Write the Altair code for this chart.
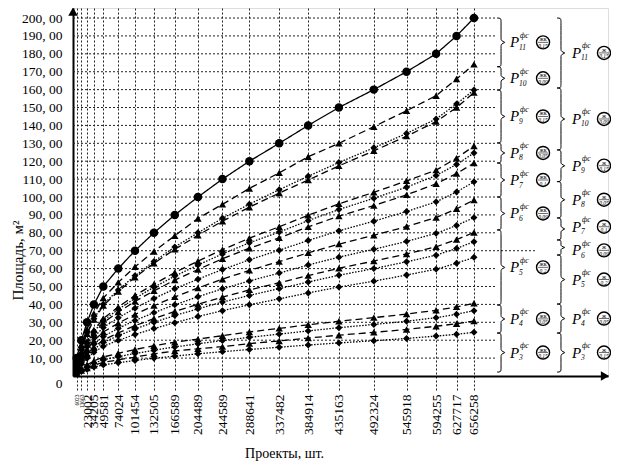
import altair as alt
import pandas as pd

FONT = "Liberation Serif"

# ---------------- data ----------------
x_ticks = [6023, 13663, 23002, 34205, 49581, 74024, 101454, 132505, 166589, 204489,
           244589, 288641, 337482, 384914, 435163, 492324, 545918, 594255, 627717, 656258]
y_ticks = [0, 10, 20, 30, 40, 50, 60, 70, 80, 90, 100, 110, 120, 130, 140, 150, 160, 170, 180, 190, 200]

s00 = [10, 20, 30, 40, 50, 60, 70, 80, 90, 100, 110, 120, 130, 140, 150, 160, 170, 180, 190, 200]
s01 = [8.8, 17.5, 26.2, 34.9, 43.6, 52.3, 61.0, 69.6, 78.4, 88.0, 95.9, 104.8, 113.5, 122.5, 130.0, 139.3, 148.2, 156.6, 165.9, 174.1]
s02 = [8.1, 16.0, 24.1, 32.0, 40.1, 48.1, 56.0, 64.0, 72.1, 80.0, 88.1, 96.0, 104.1, 111.6, 119.3, 127.5, 135.5, 143.6, 152.0, 159.8]
s03 = [7.8, 15.7, 23.6, 31.5, 39.3, 47.2, 55.1, 63.0, 70.8, 78.6, 86.5, 94.3, 102.2, 109.5, 117.4, 125.8, 134.0, 142.1, 150.0, 158.3]
s04 = [6.5, 12.9, 19.3, 25.7, 32.1, 38.5, 45.0, 51.3, 57.8, 64.2, 70.6, 77.0, 83.4, 89.8, 96.2, 102.6, 109.0, 115.0, 121.7, 128.5]
s05 = [6.2, 12.4, 18.6, 24.8, 31.0, 37.2, 43.4, 49.6, 55.8, 62.0, 68.2, 74.4, 80.4, 86.8, 93.0, 99.3, 105.5, 112.0, 118.2, 124.6]
s06 = [6.0, 11.9, 17.9, 23.8, 29.8, 35.7, 41.7, 47.6, 53.6, 59.5, 65.5, 71.4, 77.2, 83.3, 89.3, 95.2, 101.2, 107.4, 113.1, 119.0]
s07 = [5.4, 10.9, 16.3, 21.7, 27.1, 32.5, 37.9, 43.3, 48.7, 54.1, 59.5, 64.9, 70.3, 75.7, 81.1, 86.5, 91.9, 97.3, 102.8, 108.5]
s08 = [4.9, 9.8, 14.8, 19.7, 24.6, 29.5, 34.4, 39.3, 44.2, 49.2, 54.1, 59.0, 63.9, 68.8, 73.7, 78.6, 83.5, 88.5, 93.4, 98.3]
s09 = [4.4, 8.9, 13.3, 17.7, 22.1, 26.6, 31.0, 35.4, 39.8, 44.3, 48.7, 53.1, 57.5, 62.0, 66.4, 70.8, 75.2, 79.7, 84.1, 88.5]
s10 = [4.0, 8.0, 12.0, 16.0, 20.1, 24.1, 28.1, 32.1, 36.1, 40.1, 44.1, 48.1, 52.1, 56.1, 60.2, 64.2, 68.2, 72.2, 76.2, 80.2]
s11 = [3.8, 7.5, 11.3, 15.0, 18.8, 22.5, 26.3, 30.0, 33.8, 37.5, 41.3, 45.0, 48.8, 52.5, 56.3, 60.0, 63.8, 67.5, 71.3, 75.0]
s12 = [3.3, 6.6, 9.9, 13.3, 16.6, 19.9, 23.2, 26.5, 29.8, 33.2, 36.5, 39.8, 43.1, 46.4, 49.7, 53.0, 56.4, 59.7, 63.0, 66.3]
s13 = [2.1, 4.2, 6.3, 8.4, 10.6, 12.7, 14.8, 16.9, 18.9, 20.6, 22.5, 24.6, 26.6, 28.6, 30.6, 32.6, 34.6, 36.7, 38.6, 40.6]
s14 = [1.8, 3.6, 5.4, 7.2, 9.0, 10.8, 12.6, 14.4, 16.2, 18.0, 19.8, 21.6, 23.4, 25.2, 27.0, 28.8, 30.6, 32.6, 34.5, 36.5]
s15 = [1.5, 3.0, 4.5, 6.0, 7.6, 9.0, 10.6, 12.4, 14.0, 15.2, 16.4, 18.1, 19.6, 21.2, 22.8, 24.4, 26.0, 27.8, 29.2, 30.7]
s16 = [1.2, 2.5, 3.7, 5.0, 6.2, 7.4, 8.7, 9.9, 11.1, 12.4, 13.6, 14.8, 16.1, 17.3, 18.5, 19.7, 21.0, 22.3, 23.3, 24.4]

series = [s00, s01, s02, s03, s04, s05, s06, s07, s08, s09, s10, s11, s12, s13, s14, s15, s16]
series_style = ["solid", "dashed", "dotted", "dashed", "dashed", "dotted", "dashed", "dotted",
                "dashed", "dotted", "dashed", "dotted", "dotted", "dashed", "dotted", "dashed", "dotted"]
style_marker = {"solid": "circle", "dashed": "triangle-up", "dotted": "diamond"}
marker_size = {"circle": 72, "triangle-up": 55, "diamond": 48}

# brace annotations (value ranges) and their labels
brace1_ranges = [(200, 172.8), (172.8, 159.8), (159.8, 130.2), (130.2, 119.0), (119.0, 100.0),
                 (100.0, 81.6), (81.6, 39.7), (39.7, 24.0), (24.0, 2.2)]
brace2_ranges = [(200, 160.9), (160.9, 126.3), (126.3, 108.6), (108.6, 88.3), (88.3, 76.0),
                 (76.0, 67.6), (67.6, 40.2), (40.2, 24.0), (24.0, 2.2)]
label1_y = [186.4, 166.3, 145.0, 124.6, 109.5, 90.8, 60.7, 31.9, 13.1]
label2_y = [180.5, 143.6, 117.5, 98.5, 83.4, 70.2, 53.9, 32.1, 13.1]
label_subs = ["11", "10", "9", "8", "7", "6", "5", "4", "3"]
label_rates = ["0,15", "0,09", "0,15", "0,05", "0,1", "0,09", "0,2", "0,05", "0,15"]
col1_kind = "жк"
col2_kind = "ж"

# ---------------- layout constants ----------------
X_MAX = 875600
Y_MAX = 205.6
GRID_END = 694000
GRID_END_LONG = 756000
PX = 1636.6  # data units per pixel on x
B1_X = 694000
B2_X = 792100
BW = 8 * PX
L1_X = B1_X + 13 * PX
C1_X = B1_X + 46 * PX
L2_X = B2_X + 15 * PX
C2_X = B2_X + 47 * PX

rows = []
for i, (vals, st) in enumerate(zip(series, series_style)):
    mk = style_marker[st]
    for xv, yv in zip(x_ticks, vals):
        rows.append(dict(series=f"s{i:02d}", x=xv, y=yv, style=st, marker=mk, msize=marker_size[mk]))
df = pd.DataFrame(rows)

grid_df = pd.DataFrame({
    "y": y_ticks[1:],
    "x": [0] * (len(y_ticks) - 1),
    "x2": [GRID_END_LONG if v == 70 else GRID_END for v in y_ticks[1:]],
})


def brace_pts(bid, x0, w, yt, yb):
    ym = (yt + yb) / 2
    e = min(2.0, (yt - yb) * 0.18)
    h = w * 0.5
    pts = [(x0, yt), (x0 + h, yt), (x0 + h, yt - e), (x0 + h, ym + e), (x0 + h, ym + e * 0.5),
           (x0 + w, ym), (x0 + w, ym), (x0 + h, ym - e * 0.5), (x0 + h, ym - e),
           (x0 + h, yb + e), (x0 + h, yb), (x0, yb)]
    return [dict(bid=bid, x=px, y=py, order=k) for k, (px, py) in enumerate(pts)]


brace_rows = []
lab_rows = []
for j, (rng, ly, sub, rate) in enumerate(zip(brace1_ranges, label1_y, label_subs, label_rates)):
    brace_rows += brace_pts(f"a{j}", B1_X, BW, rng[0], rng[1])
    lab_rows.append(dict(x=L1_X, cx=C1_X, cl=C1_X - 5 * PX, cr=C1_X + 5 * PX,
                         y=ly, p="P", sup="фс", sub=sub, top=col1_kind, bot=rate))
for j, (rng, ly, sub, rate) in enumerate(zip(brace2_ranges, label2_y, label_subs, label_rates)):
    brace_rows += brace_pts(f"b{j}", B2_X, BW, rng[0], rng[1])
    lab_rows.append(dict(x=L2_X, cx=C2_X, cl=C2_X - 5 * PX, cr=C2_X + 5 * PX,
                         y=ly, p="P", sup="фс", sub=sub, top=col2_kind, bot=rate))
brace_df = pd.DataFrame(brace_rows)
lab_df = pd.DataFrame(lab_rows)

arrow_x_df = pd.DataFrame({"x": [X_MAX - 3 * PX], "y": [0]})
arrow_y_df = pd.DataFrame({"x": [0], "y": [Y_MAX - 2.0]})

# ---------------- scales / axes ----------------
xscale = alt.Scale(domain=[0, X_MAX], nice=False, zero=False)
yscale = alt.Scale(domain=[0, Y_MAX], nice=False, zero=False)

xaxis = alt.Axis(
    values=x_ticks, format="d", labelAngle=270, labelFont=FONT,
    labelFontSize={"condition": {"test": "datum.value < 20000", "value": 5.5}, "value": 13.5},
    labelColor="black", labelOverlap=False, labelFlush=False, labelPadding=2,
    tickSize=16, tickColor="#222", tickDash=[2, 2], tickWidth=1,
    grid=True, gridColor="#222", gridDash=[2, 2], gridWidth=1, gridOpacity=1,
    domainColor="black", domainWidth=2,
    title="Проекты, шт.", titleFont=FONT, titleFontSize=14, titleFontWeight="normal",
    titleColor="black", titleX=211, titleY=77, titleBaseline="middle",
)
yaxis = alt.Axis(
    values=y_ticks, labelExpr="datum.value == 0 ? '0' : format(datum.value, 'd') + ', 00'",
    labelFont=FONT, labelFontSize=13.5, labelColor="black", labelPadding=11,
    labelBaseline={"condition": {"test": "datum.value == 0", "value": "top"}, "value": "middle"},
    labelFlush=False, labelOverlap=False, ticks=False, grid=False,
    domainColor="black", domainWidth=2,
    title="Площадь, м²", titleFont=FONT, titleFontSize=15, titleFontWeight="normal",
    titleColor="black", titleX=-56, titleY=252, titleAlign="center", titleBaseline="middle",
)


def X(field="x"):
    return alt.X(f"{field}:Q", scale=xscale, axis=xaxis)


def Y(field="y"):
    return alt.Y(f"{field}:Q", scale=yscale, axis=yaxis)


grid = alt.Chart(grid_df).mark_rule(color="#222", strokeDash=[2, 2], strokeWidth=1).encode(
    x=X(), x2="x2:Q", y=Y())

lines = alt.Chart(df).mark_line(color="black", strokeWidth=1.3).encode(
    x=X(), y=Y(), detail="series:N",
    strokeDash=alt.StrokeDash("style:N", scale=alt.Scale(domain=["solid", "dashed", "dotted"],
                                                          range=[[1, 0], [7, 4], [1.5, 1.5]]), legend=None),
)

points = alt.Chart(df).mark_point(filled=True, color="black", opacity=1).encode(
    x=X(), y=Y(),
    shape=alt.Shape("marker:N", scale=alt.Scale(domain=["circle", "triangle-up", "diamond"],
                                                 range=["circle", "triangle-up", "diamond"]), legend=None),
    size=alt.Size("msize:Q", scale=None, legend=None),
)

braces = alt.Chart(brace_df).mark_line(interpolate="basis", color="black", strokeWidth=1).encode(
    x=X(), y=Y(), detail="bid:N", order="order:Q")

p_text = alt.Chart(lab_df).mark_text(font=FONT, fontSize=15, fontStyle="italic", align="left",
                                     baseline="middle", fill="black").encode(x=X(), y=Y(), text="p:N")
sup_text = alt.Chart(lab_df).mark_text(font=FONT, fontSize=7.5, fontStyle="italic", align="left",
                                       baseline="middle", dx=10, dy=-6.5, fill="black").encode(
    x=X(), y=Y(), text="sup:N")
sub_text = alt.Chart(lab_df).mark_text(font=FONT, fontSize=7.5, fontStyle="italic", align="left",
                                       baseline="middle", dx=9, dy=5.5, fill="black").encode(
    x=X(), y=Y(), text="sub:N")

circles = alt.Chart(lab_df).mark_point(shape="circle", size=170, filled=False, color="black",
                                       strokeWidth=1.4, opacity=1).encode(x=X("cx"), y=Y())
c_top = alt.Chart(lab_df).mark_text(font=FONT, fontSize=6, baseline="middle", dy=-3,
                                    fill="black").encode(x=X("cx"), y=Y(), text="top:N")
c_bot = alt.Chart(lab_df).mark_text(font=FONT, fontSize=5.5, fontStyle="italic", baseline="middle",
                                    dy=3.5, fill="black").encode(x=X("cx"), y=Y(), text="bot:N")
c_line = alt.Chart(lab_df).mark_rule(color="black", strokeWidth=0.6).encode(
    x=X("cl"), x2="cr:Q", y=Y())

arrow_x = alt.Chart(arrow_x_df).mark_point(shape="triangle-right", filled=True, color="black",
                                           size=90, opacity=1).encode(x=X(), y=Y())
arrow_y = alt.Chart(arrow_y_df).mark_point(shape="triangle-up", filled=True, color="black",
                                           size=90, opacity=1).encode(x=X(), y=Y())

chart = alt.layer(grid, lines, points, braces, p_text, sup_text, sub_text,
                  circles, c_line, c_top, c_bot, arrow_x, arrow_y).properties(
    width=535, height=368,
    autosize=alt.AutoSizeParams(type="none"),
    padding={"left": 65, "top": 0, "right": 3, "bottom": 85},
).configure_view(stroke=None).configure(font=FONT)

chart.save("out.html", embed_options={"renderer": "svg", "actions": False})
